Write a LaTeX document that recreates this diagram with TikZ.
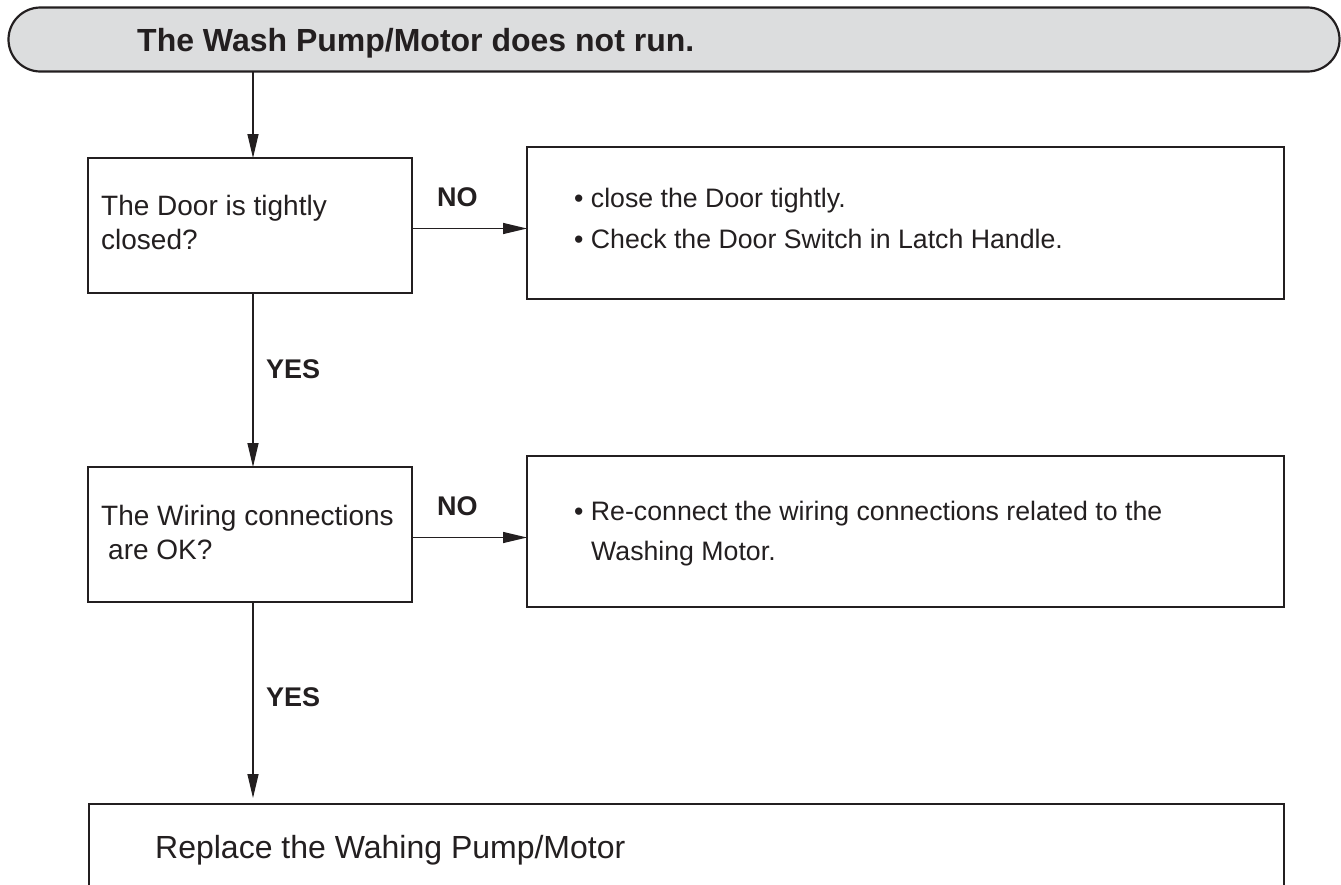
\documentclass[tikz,border=0pt]{standalone}
\usepackage{fontspec}
\setmainfont{Liberation Sans}
\usetikzlibrary{arrows.meta}
\definecolor{ink}{HTML}{231F20}
\definecolor{bannerfill}{HTML}{DCDDDE}
\begin{document}
\begin{tikzpicture}[x=1pt,y=-1pt,
  box/.style={draw=ink, line width=1.8pt, inner sep=0pt, outer sep=0pt, anchor=north west},
  txt/.style={inner sep=0pt, anchor=base west, text=ink, font=\fontsize{28}{34}\selectfont},
  rtxt/.style={inner sep=0pt, anchor=base west, text=ink, font=\fontsize{26.7}{32}\selectfont},
  lbl/.style={inner sep=0pt, anchor=base west, text=ink, font=\bfseries\fontsize{27}{32}\selectfont},
  conn/.style={draw=ink, line width=1.3pt, -{Triangle[length=24pt,width=11pt]}}]
\useasboundingbox (0,0) rectangle (1341,884);
% banner
\node[draw=ink, line width=2.2pt, fill=bannerfill, rounded corners=32pt,
      minimum width=1331pt, minimum height=64pt, inner sep=0pt, outer sep=0pt,
      anchor=north west] (banner) at (8.5,7.5) {};
\node[lbl, font=\bfseries\fontsize{32}{38}\selectfont] (title) at (137,51) {The Wash Pump/Motor does not run.};
\coordinate (spine) at (253,0);
% question 1
\node[box, minimum width=324pt, minimum height=135pt] (q1) at (88,158) {};
\node[txt] (q1a) at (101,215) {The Door is tightly};
\node[txt] (q1b) at (101,249) {closed?};
% remedy 1
\node[box, minimum width=757pt, minimum height=152pt] (r1) at (527,147) {};
\node[rtxt] (r1a) at (574,207) {• close the Door tightly.};
\node[rtxt] (r1b) at (574,248) {• Check the Door Switch in Latch Handle.};
% question 2
\node[box, minimum width=324pt, minimum height=135pt] (q2) at (88,467) {};
\node[txt] (q2a) at (101,525) {The Wiring connections};
\node[txt] (q2b) at (108,559) {are OK?};
% remedy 2
\node[box, minimum width=757pt, minimum height=151pt] (r2) at (527,456) {};
\node[rtxt] (r2a) at (574,520) {• Re-connect the wiring connections related to the};
\node[rtxt] (r2b) at (591,560) {Washing Motor.};
% final
\node[box, minimum width=1195pt, minimum height=110pt] (fix) at (89,804) {};
\node[txt, font=\fontsize{32}{38}\selectfont] (fixa) at (155,858) {Replace the Wahing Pump/Motor};
% labels
\node[lbl] (no1) at (437,206) {NO};
\node[lbl] (no2) at (437,515) {NO};
\node[lbl] (yes1) at (266,378) {YES};
\node[lbl] (yes2) at (266,706) {YES};
% connectors
\draw[conn] (banner.south -| spine) -- (q1.north -| spine);
\draw[conn] ([yshift=-3pt]q1.east) -- ([yshift=-3pt]q1.east -| r1.west);
\draw[conn] (q1.south -| spine) -- (q2.north -| spine);
\draw[conn] ([yshift=-3pt]q2.east) -- ([yshift=-3pt]q2.east -| r2.west);
\draw[conn, shorten >=6pt] (q2.south -| spine) -- (fix.north -| spine);
\end{tikzpicture}
\end{document}
